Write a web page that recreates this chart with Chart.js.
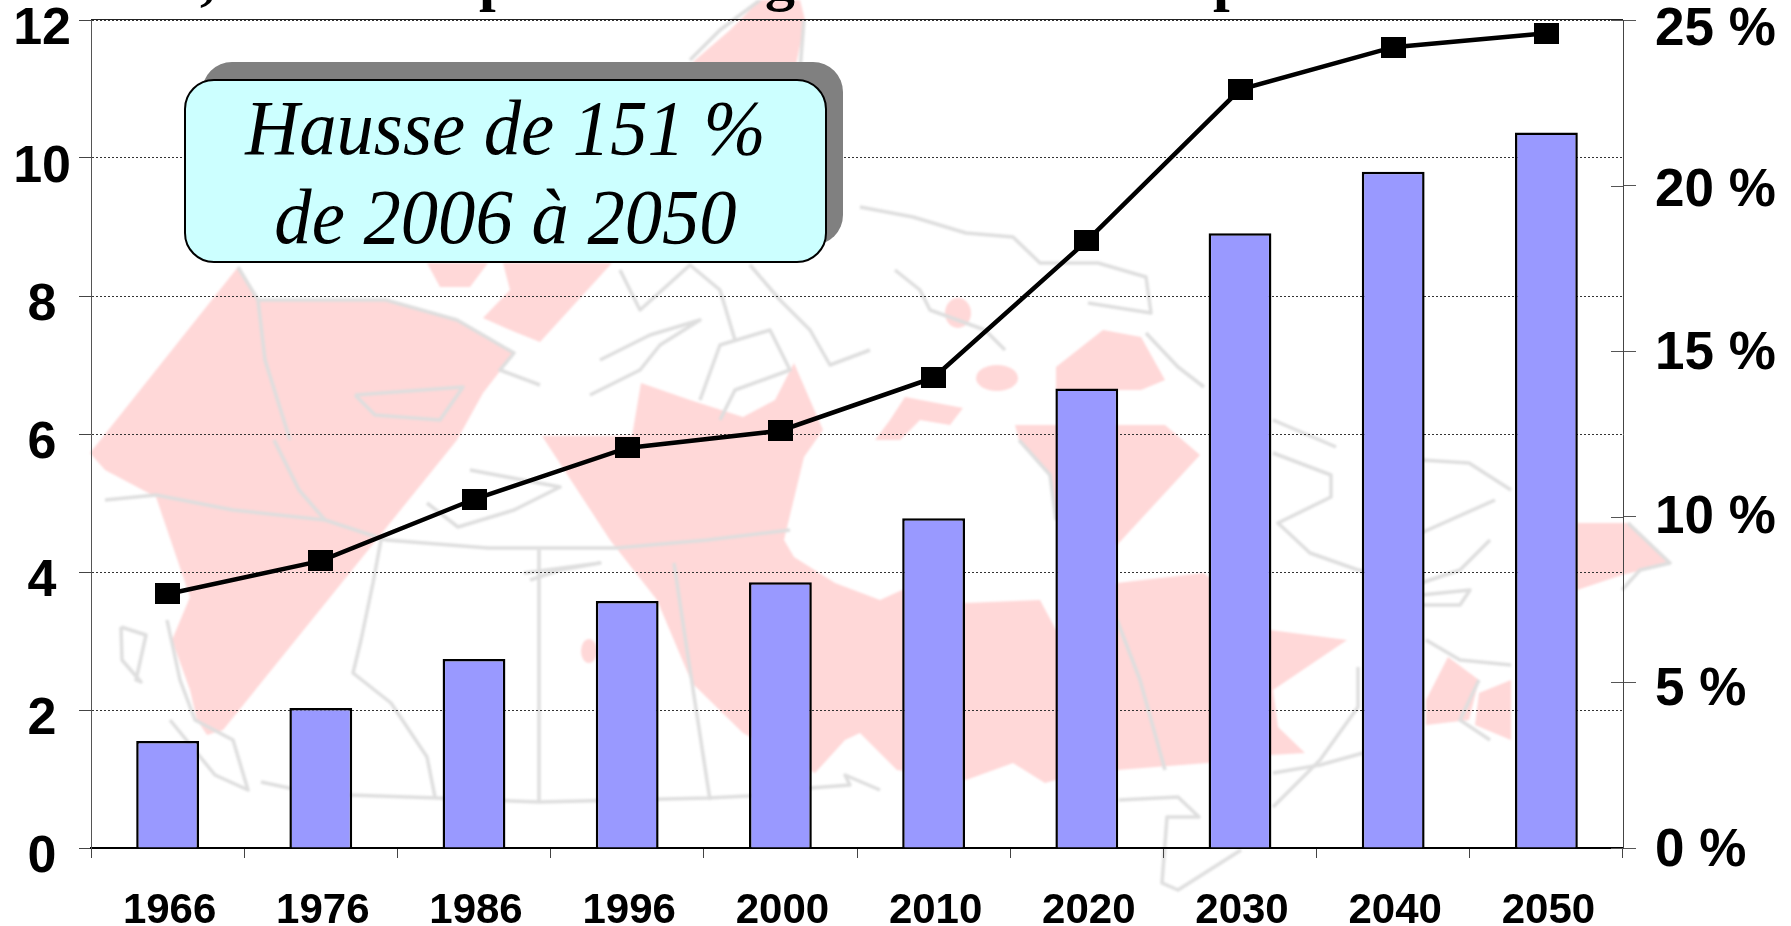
<!DOCTYPE html>
<html lang="fr">
<head>
<meta charset="utf-8">
<title>Hausse de 151 %</title>
<script src="https://cdn.jsdelivr.net/npm/chart.js@4"></script>
<style>
  html, body { margin: 0; padding: 0; background: #fff; }
  #stage { position: relative; width: 1791px; height: 926px; overflow: hidden; }
  #stage svg, #stage canvas { position: absolute; left: 0; top: 0; }
  #stage svg { filter: blur(0.8px); }
  .map-pink { fill: #ffd8d8; stroke: none; }
  .map-line { fill: none; stroke: #dedede; stroke-width: 3.5; stroke-linejoin: round; }
  .cut { position: absolute; font: bold 60px "Liberation Serif", serif; line-height: 60px; color: #000; }
  .shadow, .note { position: absolute; border-radius: 30px; box-sizing: border-box; }
  .shadow { left: 202px; top: 62px; width: 641px; height: 183px; background: #808080; }
  .note { left: 184px; top: 79px; width: 643px; height: 184px; background: #ccffff; border: 2px solid #000;
          font: italic 78px "Liberation Serif", serif; color: #000; text-align: center; }
  .note div { position: absolute; left: 0; right: 0; white-space: nowrap; line-height: 89px; transform: scaleX(0.957); }
</style>
</head>
<body>
<div id="stage">
  <svg width="1791" height="926">
    <polygon class="map-pink" points="238,267 258,300 386,300 457,320 514,353 483,393 457,440 223,730 207,735 197,720 190,690 172,640 190,597 156,497 105,470 90,453"/>
    <polygon class="map-pink" points="693,62 730,30 760,0 800,0 805,20 795,70 700,70"/>
    <polygon class="map-pink" points="427,263 488,263 470,287 440,287"/>
    <polygon class="map-pink" points="503,263 612,263 540,342 515,332 483,318 510,290"/>
    <polygon class="map-pink" points="542,436 632,436 641,383 690,400 743,417 775,400 794,363 823,430 804,457 784,540 794,557 835,583 880,600 902,590 966,603 1040,600 1056,630 1117,583 1204,573 1270,630 1347,640 1273,690 1278,727 1305,753 1270,755 1207,763 1117,770 1056,780 1045,783 1013,763 966,780 897,770 860,733 845,740 815,773 743,733 692,683 657,600 610,540"/>
    <polygon class="map-pink" points="1015,425 1165,425 1200,455 1117,545 1056,520 1050,473 1019,440"/>
    <polygon class="map-pink" points="1103,330 1141,337 1165,380 1141,390 1056,390 1056,367"/>
    <ellipse class="map-pink" cx="997" cy="378" rx="21" ry="13"/>
    <ellipse class="map-pink" cx="958" cy="313" rx="13" ry="15"/>
    <polygon class="map-pink" points="905,397 963,408 950,425 920,420 900,440 875,440 890,420"/>
    <polygon class="map-pink" points="1577,523 1628,523 1670,563 1622,575 1577,590"/>
    <polygon class="map-pink" points="1448,657 1479,680 1469,720 1426,725 1426,700"/>
    <polygon class="map-pink" points="1479,693 1511,680 1511,740 1475,725"/>
    <ellipse class="map-pink" cx="589" cy="651" rx="8" ry="12"/>

    <polyline class="map-line" points="261,782 289,788 350,795 437,798 539,802 707,798 748,796 810,788"/>
    <polyline class="map-line" points="381,540 373,583 361,640 353,673 391,703 427,757 435,797"/>
    <polyline class="map-line" points="539,550 539,802"/>
    <polyline class="map-line" points="674,563 687,650 710,800"/>
    <polyline class="map-line" points="386,540 488,548 616,548 707,540 790,530"/>
    <polyline class="map-line" points="121,627 146,635 136,680 141,682 122,660 121,627"/>
    <polyline class="map-line" points="167,620 180,680 195,720 233,740 248,790 215,775 170,720"/>
    <polyline class="map-line" points="105,500 156,495 233,510 325,520 386,540"/>
    <polyline class="map-line" points="274,440 299,490 325,520"/>
    <polyline class="map-line" points="427,503 458,527 514,510 560,487 470,470"/>
    <polyline class="map-line" points="355,395 463,387 440,420 375,415 355,395"/>
    <polyline class="map-line" points="524,573 600,563 560,570 530,580"/>
    <polyline class="map-line" points="238,267 258,300 265,360 290,440"/>
    <polyline class="map-line" points="258,300 386,300 457,320 514,353 500,370 540,385"/>
    <polyline class="map-line" points="600,360 650,335 700,320 660,345 640,370 590,395"/>
    <polyline class="map-line" points="700,400 720,345 770,330 790,370 735,390 720,420"/>
    <polyline class="map-line" points="620,270 640,310 690,265 720,290 735,340"/>
    <polyline class="map-line" points="750,265 780,300 810,330 830,365 870,350"/>
    <polyline class="map-line" points="690,60 720,30 760,0"/>
    <polyline class="map-line" points="804,20 800,70"/>
    <polyline class="map-line" points="860,207 913,217 966,233 1013,237 1040,263 1098,263 1146,277 1151,313 1088,303"/>
    <polyline class="map-line" points="1146,333 1178,367 1204,387"/>
    <polyline class="map-line" points="1273,420 1336,447"/>
    <polyline class="map-line" points="895,270 920,290 930,310 985,330 1005,350"/>
    <polyline class="map-line" points="1019,440 1050,475 1056,520"/>
    <polyline class="map-line" points="1117,620 1140,680 1165,770"/>
    <polyline class="map-line" points="1273,453 1331,475 1331,497 1278,523 1310,553 1358,570 1421,580"/>
    <polyline class="map-line" points="1421,460 1469,463 1511,490"/>
    <polyline class="map-line" points="1495,500 1421,533"/>
    <polyline class="map-line" points="1490,540 1460,570 1421,583"/>
    <polyline class="map-line" points="1421,595 1470,590 1460,605 1421,605"/>
    <polyline class="map-line" points="1358,667 1358,707 1320,760 1273,807"/>
    <polyline class="map-line" points="1363,753 1320,765 1273,773"/>
    <polyline class="map-line" points="1119,800 1178,797 1199,817 1167,817 1162,883 1178,890 1241,850"/>
    <polyline class="map-line" points="1426,640 1460,660 1511,665"/>
    <polyline class="map-line" points="1479,680 1460,720 1490,740"/>
    <polyline class="map-line" points="1628,523 1670,563 1640,570 1622,590"/>
    <polyline class="map-line" points="810,788 850,785 845,775 880,790"/>
  </svg>
  <canvas id="chart" width="1791" height="926"></canvas>
  <div class="cut" style="left:200px;top:-51px">,</div>
  <div class="cut" style="left:479px;top:-51px">p</div>
  <div class="cut" style="left:765px;top:-51px">g</div>
  <div class="cut" style="left:1213px;top:-51px">p</div>
  <div class="shadow"></div>
  <div class="note">
    <div style="top:2px">Hausse de 151 %</div>
    <div style="top:91px">de 2006 à 2050</div>
  </div>
</div>
<script>
const years = ["1966", "1976", "1986", "1996", "2000", "2010", "2020", "2030", "2040", "2050"];
// bars: left axis, line: right axis (%)
const barValues = [1.55, 2.03, 2.74, 3.58, 3.85, 4.78, 6.66, 8.91, 9.8, 10.37];
const lineValues = [7.67, 8.67, 10.53, 12.08, 12.6, 14.2, 18.33, 22.9, 24.18, 24.6];
// the % labels were placed by hand in the original, so they sit unevenly (px, bottom to top)
const percentLabelNudge = [3, 8, 2, 3, 6, 10];

// black marker, a bit wider than tall like the original
const marker = document.createElement("canvas");
marker.width = 25;
marker.height = 21;
marker.getContext("2d").fillRect(0, 0, 25, 21);

const axisExtras = {
  id: "axisExtras",
  afterDatasetsDraw(chart) {
    const { ctx, chartArea, scales } = chart;
    ctx.save();
    // solid line along the top of the plot
    ctx.strokeStyle = "#222";
    ctx.lineWidth = 1;
    ctx.beginPath();
    ctx.moveTo(chartArea.left, chartArea.top - 0.5);
    ctx.lineTo(chartArea.right, chartArea.top - 0.5);
    ctx.stroke();
    // right ticks also cross inside the plot
    ctx.strokeStyle = "#555";
    ctx.fillStyle = "#000";
    ctx.font = "bold 53px 'Liberation Sans'";
    ctx.textBaseline = "middle";
    scales.y2.ticks.forEach((t, i) => {
      const y = scales.y2.getPixelForTick(i);
      ctx.beginPath();
      ctx.moveTo(chartArea.right - 12, Math.round(y) + 0.5);
      ctx.lineTo(chartArea.right, Math.round(y) + 0.5);
      ctx.stroke();
      ctx.fillText(t.value + " %", chartArea.right + 32, y + percentLabelNudge[i]);
    });
    ctx.restore();
  }
};

// keep the plot area where it is in the original, labels may overflow
const noPad = s => {
  s.paddingTop = 0;
  s.paddingBottom = 0;
  s.paddingLeft = 0;
  s.paddingRight = 0;
};

new Chart(document.getElementById("chart"), {
  data: {
    labels: years,
    datasets: [
      {
        type: "line",
        data: lineValues,
        yAxisID: "y2",
        order: 0,
        borderColor: "#000",
        borderWidth: 4.5,
        tension: 0,
        pointStyle: marker
      },
      {
        type: "bar",
        data: barValues,
        yAxisID: "y",
        order: 1,
        backgroundColor: "#9999ff",
        borderColor: "#000",
        borderWidth: 2.5,
        barPercentage: 0.41,
        categoryPercentage: 1
      }
    ]
  },
  options: {
    responsive: false,
    animation: false,
    layout: { padding: { top: 20 } },
    plugins: { legend: { display: false }, tooltip: { enabled: false } },
    scales: {
      x: {
        offset: true,
        afterFit: s => { s.height = 78; noPad(s); },
        grid: { drawOnChartArea: false, tickLength: 10, tickColor: "#444", tickWidth: 1, offset: true },
        border: { color: "#000", width: 2 },
        ticks: {
          autoSkip: false,
          maxRotation: 0,
          padding: 28,
          labelOffset: 2,
          color: "#000",
          font: { family: "'Liberation Sans'", size: 42, weight: "bold" }
        }
      },
      y: {
        position: "left",
        min: 0,
        max: 12,
        afterFit: s => { s.width = 91; noPad(s); },
        grid: { color: "#333", lineWidth: 1, tickLength: 12, tickColor: "#444" },
        border: { color: "#555", width: 1, dash: [2, 2] },
        ticks: {
          stepSize: 2,
          padding: 8,
          crossAlign: "center",
          labelOffset: 10,
          color: "#000",
          font: { family: "'Liberation Sans'", size: 52, weight: "bold" }
        }
      },
      y2: {
        position: "right",
        min: 0,
        max: 25,
        afterFit: s => { s.width = 168; noPad(s); },
        grid: { drawOnChartArea: false, tickLength: 13, tickColor: "#555" },
        border: { color: "#444", width: 1 },
        ticks: { stepSize: 5, display: true, color: "transparent", font: { size: 1 } }
      }
    }
  },
  plugins: [axisExtras]
});
</script>
</body>
</html>
